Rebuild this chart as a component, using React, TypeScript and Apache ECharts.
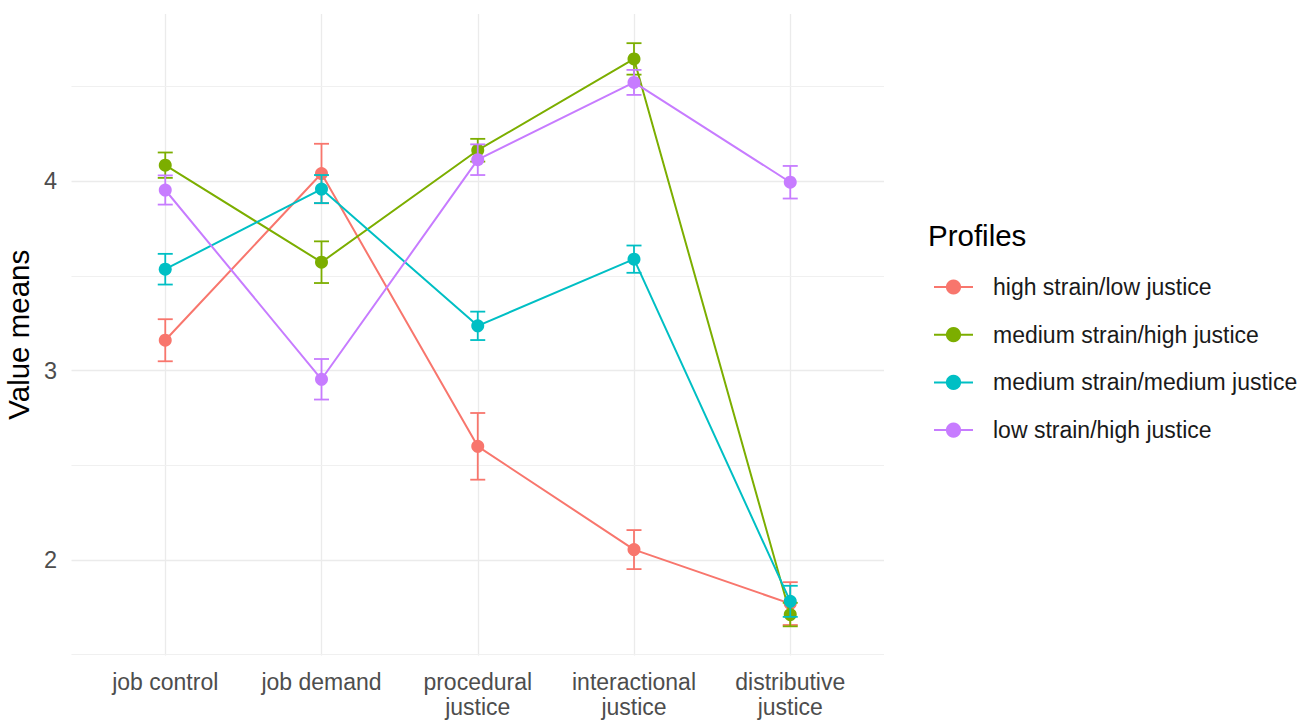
import React, { useEffect, useRef } from "react";
import * as echarts from "echarts";

const categories = [
  "job control",
  "job demand",
  "procedural\njustice",
  "interactional\njustice",
  "distributive\njustice",
];

const profiles = [
  "high strain/low justice",
  "medium strain/high justice",
  "medium strain/medium justice",
  "low strain/high justice",
];

const colors = ["#F8766D", "#7CAE00", "#00BFC4", "#C77CFF"];

const meansHighLow = [3.16, 4.04, 2.6, 2.055, 1.77];
const meansMedHigh = [4.084, 3.572, 4.163, 4.645, 1.712];
const meansMedMed = [3.535, 3.958, 3.236, 3.588, 1.782];
const meansLowHigh = [3.953, 2.954, 4.113, 4.521, 3.994];

const errHighLow = [0.111, 0.157, 0.176, 0.103, 0.113];
const errMedHigh = [0.067, 0.11, 0.06, 0.083, 0.062];
const errMedMed = [0.081, 0.074, 0.075, 0.072, 0.082];
const errLowHigh = [0.077, 0.107, 0.081, 0.066, 0.086];

const allMeans = [meansHighLow, meansMedHigh, meansMedMed, meansLowHigh];
const allErrs = [errHighLow, errMedHigh, errMedMed, errLowHigh];

const majorY = [2, 3, 4];
const minorY = [1.5, 2.5, 3.5, 4.5];

const FONT = "'Liberation Sans', Arial, sans-serif";

export default function App() {
  const ref = useRef<HTMLDivElement>(null);

  useEffect(() => {
    if (!ref.current) return;
    const chart = echarts.init(ref.current, undefined, { renderer: "svg" });

    const gridSeries: any = {
      type: "line",
      name: "grid",
      data: [],
      z: 0,
      silent: true,
      markLine: {
        z: 0,
        silent: true,
        symbol: "none",
        animation: false,
        label: { show: false },
        emphasis: { disabled: true },
        data: [
          ...categories.map((_, i) => ({
            xAxis: i,
            lineStyle: { color: "#EBEBEB", width: 1.3, type: "solid" },
          })),
          ...majorY.map((v) => ({
            yAxis: v,
            lineStyle: { color: "#EBEBEB", width: 1.3, type: "solid" },
          })),
          ...minorY.map((v) => ({
            yAxis: v,
            lineStyle: { color: "#F0F0F0", width: 1.1, type: "solid" },
          })),
        ],
      },
    };

    const lineSeries = profiles.map((name, k) => ({
      type: "line",
      name,
      data: allMeans[k].map((v, i) => [i, v]),
      symbol: "circle",
      symbolSize: 13,
      z: 10 + k,
      lineStyle: { color: colors[k], width: 2 },
      itemStyle: { color: colors[k] },
      emphasis: { disabled: true },
    }));

    const errSeries = profiles.map((name, k) => ({
      type: "custom",
      name: "err" + k,
      z: 10 + k,
      data: allMeans[k].map((v, i) => [i, v - allErrs[k][i], v + allErrs[k][i]]),
      encode: { x: 0, y: [1, 2] },
      renderItem: (params: any, api: any) => {
        const x = api.value(0);
        const lo = api.coord([x, api.value(1)]);
        const hi = api.coord([x, api.value(2)]);
        const w = 7.5;
        const style = { stroke: colors[k], lineWidth: 1.8 };
        return {
          type: "group",
          children: [
            { type: "line", shape: { x1: lo[0], y1: lo[1], x2: hi[0], y2: hi[1] }, style },
            { type: "line", shape: { x1: lo[0] - w, y1: lo[1], x2: lo[0] + w, y2: lo[1] }, style },
            { type: "line", shape: { x1: hi[0] - w, y1: hi[1], x2: hi[0] + w, y2: hi[1] }, style },
          ],
        };
      },
    }));

    chart.setOption({
      animation: false,
      backgroundColor: "#FFFFFF",
      textStyle: { fontFamily: FONT },
      grid: {
        left: 71.5,
        right: 424,
        top: 14,
        bottom: 64.5,
        containLabel: false,
        outerBoundsMode: "none",
      },
      title: {
        text: "Profiles",
        left: 923,
        top: 215,
        textStyle: { fontFamily: FONT, fontSize: 29.5, fontWeight: "normal", color: "#000000" },
      },
      legend: {
        orient: "vertical",
        left: 928,
        top: 270,
        itemWidth: 39,
        itemHeight: 19,
        itemGap: 23.7,
        data: profiles,
        selectedMode: false,
        textStyle: {
          fontFamily: FONT,
          fontSize: 23,
          color: "#1A1A1A",
          lineHeight: 24,
          padding: [0, 0, 0, 15],
        },
      },
      xAxis: {
        type: "value",
        min: -0.6,
        max: 4.6,
        interval: 0.2,
        axisLine: { show: false },
        axisTick: { show: false },
        splitLine: { show: false },
        axisLabel: {
          margin: 14,
          fontFamily: FONT,
          fontSize: 23,
          color: "#4D4D4D",
          lineHeight: 25,
          formatter: (v: number) => {
            const r = Math.round(v);
            if (Math.abs(v - r) < 1e-6 && r >= 0 && r < categories.length) return categories[r];
            return "";
          },
        },
      },
      yAxis: {
        type: "value",
        min: 1.496,
        max: 4.882,
        name: "Value means",
        nameLocation: "middle",
        nameRotate: 90,
        nameGap: 38,
        nameTextStyle: { fontFamily: FONT, fontSize: 29.5, color: "#000000" },
        axisLine: { show: false },
        axisTick: { show: false },
        splitLine: { show: false },
        axisLabel: {
          margin: 14.5,
          fontFamily: FONT,
          fontSize: 23.5,
          color: "#4D4D4D",
          formatter: (v: number) => {
            const r = Math.round(v);
            if (Math.abs(v - r) < 1e-6 && majorY.includes(r)) return String(r);
            return "";
          },
        },
      },
      series: [gridSeries, ...lineSeries, ...errSeries],
    });

    return () => chart.dispose();
  }, []);

  return (
    <div
      ref={ref}
      style={{ position: "fixed", left: 0, top: 0, width: 1308, height: 720, background: "#fff" }}
    />
  );
}
